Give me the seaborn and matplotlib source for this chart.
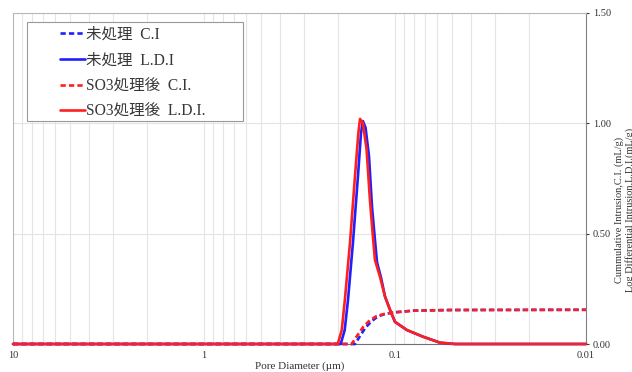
import numpy as np
import pandas as pd
import matplotlib
matplotlib.use('Agg')
import matplotlib.pyplot as plt
import seaborn as sns
from matplotlib.patches import Rectangle
from matplotlib.ticker import FixedLocator, LogLocator, NullFormatter

# Pore diameter (um) and values
blue_ci_d = [10, 0.5, 0.2, 0.162, 0.154, 0.1426, 0.1319, 0.1228, 0.1128, 0.102, 0.0805, 0.0515, 0.01]
blue_ci_v = [0, 0, 0, 0, 0.03, 0.075, 0.105, 0.125, 0.136, 0.143, 0.151, 0.154, 0.155]

blue_ldi_d = [10, 0.5, 0.1924, 0.1834, 0.1762, 0.166, 0.1563, 0.1507, 0.1472, 0.1426, 0.1368,
              0.1319, 0.1276, 0.1242, 0.1183, 0.1128, 0.1062, 0.100, 0.0976, 0.0865, 0.0713,
              0.0581, 0.0485, 0.01]
blue_ldi_v = [0, 0, 0, 0.063, 0.20, 0.46, 0.76, 0.955, 1.01, 0.98, 0.85,
              0.62, 0.48, 0.37, 0.30, 0.215, 0.155, 0.10, 0.094, 0.063, 0.033,
              0.006, 0, 0]

red_ci_d = [10, 0.5, 0.2, 0.1687, 0.160, 0.1466, 0.1352, 0.1247, 0.1128, 0.102, 0.0805, 0.0515, 0.01]
red_ci_v = [0, 0, 0, 0, 0.03, 0.078, 0.108, 0.127, 0.137, 0.143, 0.151, 0.154, 0.155]

red_ldi_d = [10, 0.5, 0.1995, 0.190, 0.183, 0.172, 0.162, 0.1556, 0.1524, 0.1472, 0.1408,
             0.1352, 0.1309, 0.1273, 0.1199, 0.1128, 0.1062, 0.100, 0.0976, 0.0865, 0.0713,
             0.0581, 0.0485, 0.01]
red_ldi_v = [0, 0, 0, 0.063, 0.20, 0.46, 0.76, 0.955, 1.02, 1.00, 0.88,
             0.65, 0.50, 0.38, 0.305, 0.215, 0.155, 0.10, 0.094, 0.063, 0.033,
             0.006, 0, 0]

labels = ['未処理  C.I', '未処理  L.D.I', 'SO3処理後  C.I.', 'SO3処理後  L.D.I.']

sns.set_style('white')
plt.rcParams['font.family'] = ['Liberation Serif', 'Noto Sans CJK JP']

fig = plt.figure(figsize=(6.32, 3.72), dpi=100)
ax = fig.add_axes([13 / 632, 28 / 372, 573 / 632, 331 / 372])

blue = '#1f1fff'
red = '#ff1f1f'
dash = (0, (2.0, 1.2))

series = [
    (blue_ci_d, blue_ci_v, blue, dash),
    (blue_ldi_d, blue_ldi_v, blue, '-'),
    (red_ci_d, red_ci_v, red, dash),
    (red_ldi_d, red_ldi_v, red, '-'),
]
handles = []
for (d, v, c, ls), lab in zip(series, labels):
    sns.lineplot(x=d, y=v, ax=ax, color=c, linestyle=ls, linewidth=1.9,
                 sort=False, estimator=None, clip_on=False, zorder=3)
    handles.append(ax.lines[-1])

ax.set_xscale('log')
ax.set_xlim(10, 0.01)
ax.set_ylim(0, 1.5)

ax.xaxis.set_major_locator(FixedLocator([10, 1, 0.1, 0.01]))
ax.set_xticklabels(['10', '1', '0.1', '0.01'])
ax.xaxis.set_minor_locator(LogLocator(base=10, subs=np.arange(2, 10)))
ax.xaxis.set_minor_formatter(NullFormatter())

ax.yaxis.tick_right()
ax.set_yticks([0, 0.5, 1.0, 1.5])
ax.set_yticklabels(['0.00', '0.50', '1.00', '1.50'])

ax.grid(True, which='both', axis='x', color='#e4e4e4', linewidth=0.8)
ax.grid(True, which='major', axis='y', color='#e4e4e4', linewidth=0.8)

ax.tick_params(axis='x', which='both', length=0, labelsize=7.5, colors='#333333', pad=5)
ax.tick_params(axis='y', which='major', length=2, labelsize=7.5, colors='#333333', pad=3,
               right=True, left=False)

for side in ['left', 'top']:
    ax.spines[side].set_color('#b8b8b8')
    ax.spines[side].set_linewidth(0.8)
ax.spines['right'].set_color('#808080')
ax.spines['bottom'].set_color('#707070')
for s in ax.spines.values():
    s.set_visible(True)

ax.set_xlabel('Pore Diameter (µm)', fontsize=8, color='#333333', labelpad=1)

fig.text(624.5 / 632, 1 - 210 / 372,
         'Cummulative Intrusion,C.I. (mL/g)\nLog Differential Intrusion,L.D.I.(mL/g)',
         rotation=90, ha='center', va='center', multialignment='center',
         fontsize=7.5, color='#333333', linespacing=1.1)

# legend box and entries
ax.add_patch(Rectangle((14 / 573, 1 - 99 / 331 - 9 / 331), 216 / 573, 99 / 331,
                       transform=ax.transAxes, facecolor='white', edgecolor='#999999',
                       linewidth=0.8, zorder=4))
leg = ax.legend(handles, labels, loc='upper left', bbox_to_anchor=(47 / 573, 0.958),
                frameon=False, fontsize=11.2, handlelength=1.6, handletextpad=0.05,
                labelspacing=0.62, borderpad=0, borderaxespad=0)
leg.set_zorder(5)
for t in leg.get_texts():
    t.set_color('#383838')

fig.savefig('out.png', dpi=100)
